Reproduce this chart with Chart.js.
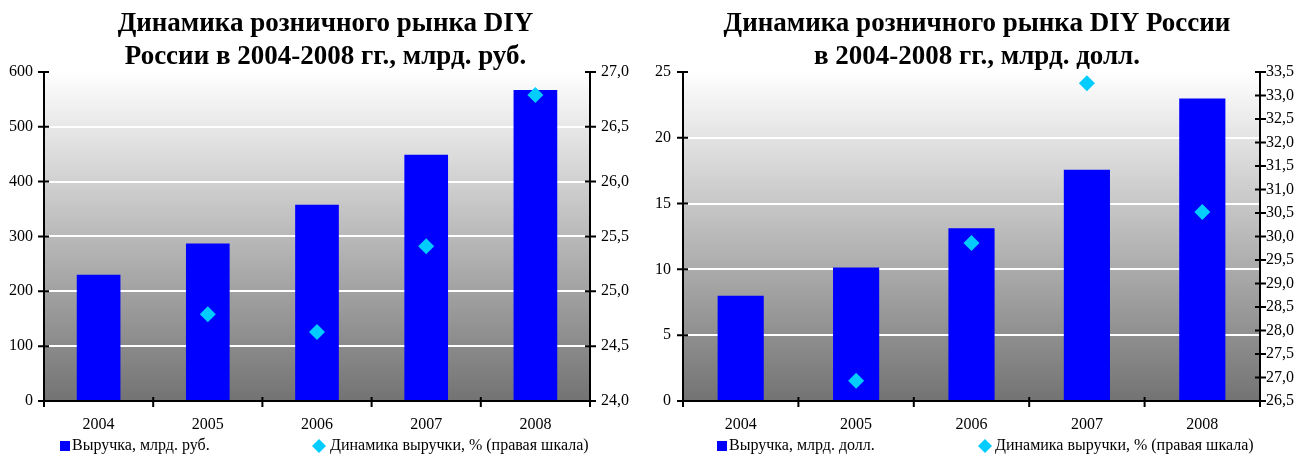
<!DOCTYPE html>
<html><head><meta charset="utf-8">
<script src="https://cdn.jsdelivr.net/npm/chart.js@4.4.0/dist/chart.umd.min.js"></script>
<style>
html,body{margin:0;padding:0;background:#fff;}
#wrap{position:relative;width:1303px;height:455px;overflow:hidden;}
canvas{position:absolute;top:0;}
#c1{left:0;} #c2{left:651px;}
</style></head><body>
<div id="wrap">
<canvas id="c1" width="651" height="455"></canvas>
<canvas id="c2" width="652" height="455"></canvas>
</div>
<script>
// ---- data ----
const years = ['2004', '2005', '2006', '2007', '2008'];
const revenueRub = [230, 287, 358, 449, 567];
const growthRub = [null, 24.79, 24.63, 25.41, 26.79];
const revenueUsd = [8.0, 10.15, 13.13, 17.56, 22.98];
const growthUsd = [null, 26.93, 29.86, 33.26, 30.52];
const rubLeftTicks = [0, 100, 200, 300, 400, 500, 600];
const rubRightTicks = [24.0, 24.5, 25.0, 25.5, 26.0, 26.5, 27.0];
const usdLeftTicks = [0, 5, 10, 15, 20, 25];
const usdRightTicks = [26.5, 27.0, 27.5, 28.0, 28.5, 29.0, 29.5, 30.0, 30.5, 31.0, 31.5, 32.0, 32.5, 33.0, 33.5];
const titleRub = ['Динамика розничного рынка DIY', 'России в 2004-2008 гг., млрд. руб.'];
const titleUsd = ['Динамика розничного рынка DIY России', 'в 2004-2008 гг., млрд. долл.'];
const labelRevenueRub = 'Выручка, млрд. руб.';
const labelRevenueUsd = 'Выручка, млрд. долл.';
const labelGrowth = 'Динамика выручки, % (правая шкала)';

const FONT = 'Liberation Serif';

const bgPlugin = {
  id: 'plotBg',
  beforeDraw(chart) {
    const {ctx, chartArea: a} = chart;
    const g = ctx.createLinearGradient(0, a.top, 0, a.bottom);
    g.addColorStop(0, '#ffffff');
    g.addColorStop(1, '#737373');
    ctx.save();
    ctx.fillStyle = g;
    ctx.fillRect(a.left, a.top, a.right - a.left, a.bottom - a.top);
    ctx.restore();
  }
};

const tickPlugin = {
  id: 'crossTicks',
  afterDraw(chart) {
    const ctx = chart.ctx;
    const {x, y, y1} = chart.scales;
    ctx.save();
    ctx.strokeStyle = '#000';
    ctx.lineWidth = 2;
    ctx.beginPath();
    y.ticks.forEach((t, i) => {
      const py = y.getPixelForTick(i);
      ctx.moveTo(y.right - 6, py); ctx.lineTo(y.right + 5, py);
    });
    y1.ticks.forEach((t, i) => {
      const py = y1.getPixelForTick(i);
      ctx.moveTo(y1.left - 5, py); ctx.lineTo(y1.left + 6, py);
    });
    for (let i = 0; i <= x.ticks.length; i++) {
      const px = x.getPixelForValue(i - 0.5);
      ctx.moveTo(px, x.top - 4); ctx.lineTo(px, x.top + 6);
    }
    ctx.stroke();
    ctx.restore();
  }
};

const legendPlugin = {
  id: 'customLegend',
  afterDraw(chart, args, opts) {
    const ctx = chart.ctx;
    ctx.save();
    ctx.font = '16px "' + FONT + '"';
    ctx.textBaseline = 'middle';
    const yy = opts.y;
    chart.data.datasets.forEach((ds, i) => {
      const it = opts.items[i];
      if (ds.type === 'line') {
        ctx.fillStyle = ds.pointBackgroundColor;
        Chart.helpers.drawPoint(ctx, {pointStyle: 'rectRot', radius: 7, borderWidth: 0, rotation: 0}, it.marker, yy);
      } else {
        ctx.fillStyle = ds.backgroundColor;
        ctx.fillRect(it.marker - 5, yy - 5, 10, 10);
      }
      ctx.fillStyle = '#000';
      ctx.fillText(ds.label, it.text, yy);
    });
    ctx.restore();
  }
};

function makeChart(id, c) {
  const tickFont = {family: FONT, size: 16};
  return new Chart(document.getElementById(id), {
    type: 'bar',
    data: {
      labels: years,
      datasets: [
        {
          type: 'bar', label: c.revLabel, data: c.revenue, yAxisID: 'y',
          backgroundColor: '#0000FF', barPercentage: 0.4, categoryPercentage: 1.0, order: 2
        },
        {
          type: 'line', label: labelGrowth, data: c.growth, yAxisID: 'y1',
          showLine: false, pointStyle: 'rectRot', pointRadius: 8, pointHoverRadius: 8,
          pointBackgroundColor: '#00CCFF', pointBorderWidth: 0, borderColor: '#00CCFF', order: 1
        }
      ]
    },
    options: {
      responsive: false, animation: false, devicePixelRatio: 1,
      layout: {padding: {left: 0, right: 0, top: 0, bottom: 20}},
      plugins: {
        legend: {display: false},
        tooltip: {enabled: false},
        title: {
          display: true, text: c.title, color: '#000',
          font: {family: FONT, size: 27, weight: 'bold', lineHeight: 1.22},
          padding: {top: 8, bottom: -2}
        },
        customLegend: {y: 446, items: c.legendItems}
      },
      scales: {
        x: {
          grid: {display: false},
          border: {display: true, color: '#000', width: 2},
          ticks: {font: tickFont, color: '#000', padding: 6, maxRotation: 0},
          afterFit(s) { s.height = 34; }
        },
        y: {
          position: 'left', min: c.leftTicks[0], max: c.leftTicks[c.leftTicks.length - 1],
          afterBuildTicks(s) { s.ticks = c.leftTicks.map(v => ({value: v})); },
          ticks: {font: tickFont, color: '#000', padding: c.leftPad, autoSkip: false},
          grid: {
            color: (ctx) => (ctx.tick && ctx.tick.value === 0) ? 'rgba(0,0,0,0)' : '#ffffff',
            lineWidth: 2, drawTicks: false
          },
          border: {display: true, color: '#000', width: 2},
          afterFit(s) { s.width = c.leftW; }
        },
        y1: {
          position: 'right', min: c.rightTicks[0], max: c.rightTicks[c.rightTicks.length - 1],
          afterBuildTicks(s) { s.ticks = c.rightTicks.map(v => ({value: v})); },
          ticks: {
            font: tickFont, color: '#000', padding: c.rightPad, autoSkip: false,
            callback: (v) => Number(v).toFixed(1).replace('.', ',')
          },
          grid: {drawOnChartArea: false, drawTicks: false},
          border: {display: true, color: '#000', width: 2},
          afterFit(s) { s.width = c.rightW; }
        }
      }
    },
    plugins: [bgPlugin, tickPlugin, legendPlugin]
  });
}

makeChart('c1', {
  title: titleRub, revLabel: labelRevenueRub, revenue: revenueRub, growth: growthRub,
  leftTicks: rubLeftTicks, rightTicks: rubRightTicks,
  leftW: 44, rightW: 61, leftPad: 11, rightPad: 11,
  legendItems: [{marker: 65, text: 72}, {marker: 319, text: 330}]
});
makeChart('c2', {
  title: titleUsd, revLabel: labelRevenueUsd, revenue: revenueUsd, growth: growthUsd,
  leftTicks: usdLeftTicks, rightTicks: usdRightTicks,
  leftW: 32, rightW: 43, leftPad: 12, rightPad: 6,
  legendItems: [{marker: 71, text: 78}, {marker: 334, text: 344}]
});
</script>
</body></html>
